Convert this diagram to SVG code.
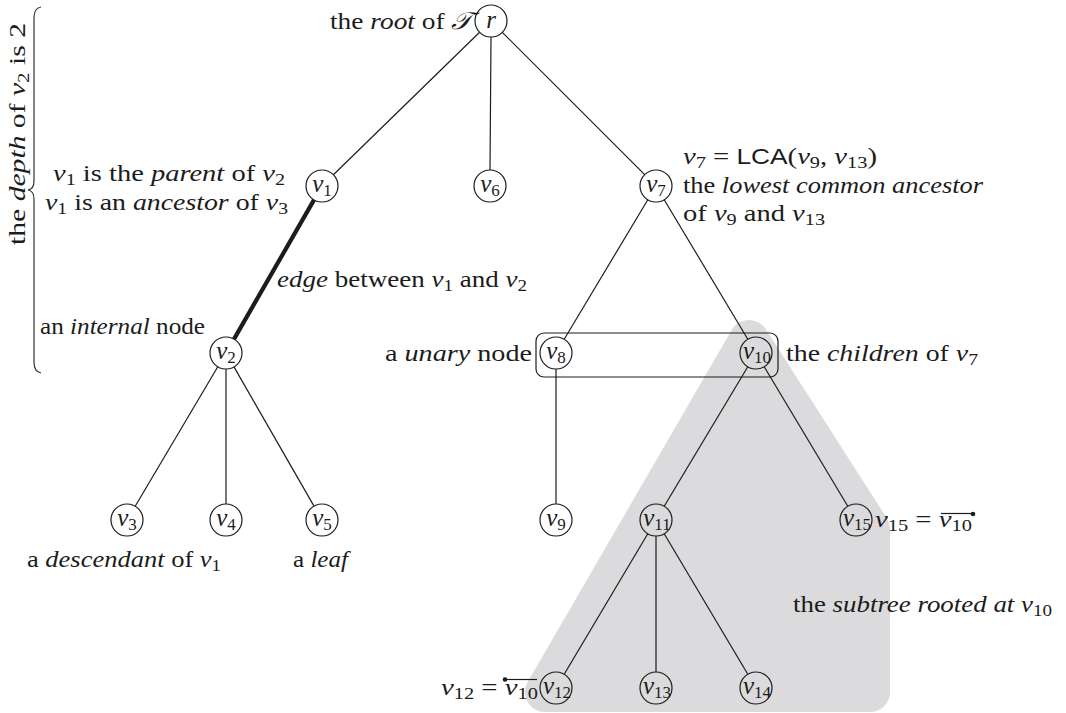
<svg xmlns="http://www.w3.org/2000/svg" width="1066" height="713" viewBox="0 0 1066 713">
<style>
.t{font-family:"Liberation Serif","Times New Roman",Times,serif;font-size:24px;fill:#1c1c1c}
.i{font-style:italic}
.s{font-size:17px;font-style:normal}
.sf{font-family:"Liberation Sans",Arial,sans-serif;font-size:22px;font-style:normal}
.n{font-family:"Liberation Serif","Times New Roman",Times,serif;font-size:25px;font-style:italic;fill:#1c1c1c;text-anchor:middle}
.c{fill:none;stroke:#1c1c1c;stroke-width:1.2}
.e{stroke:#1c1c1c;stroke-width:1.2;fill:none}
</style>
<rect width="1066" height="713" fill="#ffffff"/>
<g id="subtree-region">
<path d="M749 340 L870 529 L870 692 L545 692 Z" fill="#dbdbdd" stroke="#dbdbdd" stroke-width="40" stroke-linejoin="round"/>
</g>
<g id="children-box">
<rect x="536" y="333" width="242" height="44" rx="8" fill="none" stroke="#1c1c1c" stroke-width="1.2"/>
</g>
<g id="connectors">
<line class="e" x1="479.6" y1="32.2" x2="333.4" y2="174.8"/>
<line class="e" x1="491" y1="37" x2="490" y2="170"/>
<line class="e" x1="502.3" y1="32.3" x2="644.7" y2="174.7"/>
<line class="e" x1="314" y1="199.9" x2="234" y2="339.1" style="stroke-width:4.2"/>
<line class="e" x1="217.8" y1="366.8" x2="135.2" y2="506.2"/>
<line class="e" x1="226" y1="369" x2="226" y2="504"/>
<line class="e" x1="234" y1="366.9" x2="314" y2="506.1"/>
<line class="e" x1="647.8" y1="199.7" x2="564.2" y2="339.3"/>
<line class="e" x1="664.2" y1="199.7" x2="747.8" y2="339.3"/>
<line class="e" x1="556" y1="369" x2="556" y2="504"/>
<line class="e" x1="747.8" y1="366.7" x2="664.2" y2="506.3"/>
<line class="e" x1="764.2" y1="366.7" x2="847.8" y2="506.3"/>
<line class="e" x1="647.8" y1="533.7" x2="564.2" y2="674.3"/>
<line class="e" x1="656" y1="536" x2="656" y2="672"/>
<line class="e" x1="664.2" y1="533.7" x2="747.8" y2="674.3"/>
</g>
<g id="node-r"><circle class="c" cx="491" cy="21" r="16"/><text class="n" x="491" y="28">r</text></g>
<g id="node-v1"><circle class="c" cx="322" cy="186" r="16"/><text class="n" x="322" y="192">v<tspan class="s" dy="4">1</tspan></text></g>
<g id="node-v6"><circle class="c" cx="490" cy="186" r="16"/><text class="n" x="490" y="192">v<tspan class="s" dy="4">6</tspan></text></g>
<g id="node-v7"><circle class="c" cx="656" cy="186" r="16"/><text class="n" x="656" y="192">v<tspan class="s" dy="4">7</tspan></text></g>
<g id="node-v2"><circle class="c" cx="226" cy="353" r="16"/><text class="n" x="226" y="359">v<tspan class="s" dy="4">2</tspan></text></g>
<g id="node-v8"><circle class="c" cx="556" cy="353" r="16"/><text class="n" x="556" y="359">v<tspan class="s" dy="4">8</tspan></text></g>
<g id="node-v10"><circle class="c" cx="756" cy="353" r="16"/><text class="n" x="757" y="359">v<tspan class="s" dy="4">10</tspan></text></g>
<g id="node-v3"><circle class="c" cx="127" cy="520" r="16"/><text class="n" x="127" y="526">v<tspan class="s" dy="4">3</tspan></text></g>
<g id="node-v4"><circle class="c" cx="226" cy="520" r="16"/><text class="n" x="226" y="526">v<tspan class="s" dy="4">4</tspan></text></g>
<g id="node-v5"><circle class="c" cx="322" cy="520" r="16"/><text class="n" x="322" y="526">v<tspan class="s" dy="4">5</tspan></text></g>
<g id="node-v9"><circle class="c" cx="556" cy="520" r="16"/><text class="n" x="556" y="526">v<tspan class="s" dy="4">9</tspan></text></g>
<g id="node-v11"><circle class="c" cx="656" cy="520" r="16"/><text class="n" x="657" y="526">v<tspan class="s" dy="4">11</tspan></text></g>
<g id="node-v15"><circle class="c" cx="856" cy="520" r="16"/><text class="n" x="857" y="526">v<tspan class="s" dy="4">15</tspan></text></g>
<g id="node-v12"><circle class="c" cx="556" cy="688" r="16"/><text class="n" x="557" y="694">v<tspan class="s" dy="4">12</tspan></text></g>
<g id="node-v13"><circle class="c" cx="656" cy="688" r="16"/><text class="n" x="657" y="694">v<tspan class="s" dy="4">13</tspan></text></g>
<g id="node-v14"><circle class="c" cx="756" cy="688" r="16"/><text class="n" x="757" y="694">v<tspan class="s" dy="4">14</tspan></text></g>
<g id="labels">
<text class="t" x="330" y="29" textLength="142" lengthAdjust="spacingAndGlyphs">the <tspan class="i">root</tspan> of <tspan class="i" font-family="'DejaVu Sans','Noto Sans',serif">𝒯</tspan></text>
<text class="t" x="53" y="181" textLength="232" lengthAdjust="spacingAndGlyphs"><tspan class="i">v</tspan><tspan class="s" dy="4">1</tspan><tspan dy="-4"> is the </tspan><tspan class="i">parent</tspan> of <tspan class="i">v</tspan><tspan class="s" dy="4">2</tspan></text>
<text class="t" x="45" y="210" textLength="243" lengthAdjust="spacingAndGlyphs"><tspan class="i">v</tspan><tspan class="s" dy="4">1</tspan><tspan dy="-4"> is an </tspan><tspan class="i">ancestor</tspan> of <tspan class="i">v</tspan><tspan class="s" dy="4">3</tspan></text>
<text class="t" x="683" y="164" textLength="194" lengthAdjust="spacingAndGlyphs"><tspan class="i">v</tspan><tspan class="s" dy="4">7</tspan><tspan dy="-4"> = </tspan><tspan class="sf">LCA</tspan>(<tspan class="i">v</tspan><tspan class="s" dy="4">9</tspan><tspan dy="-4">, </tspan><tspan class="i">v</tspan><tspan class="s" dy="4">13</tspan><tspan dy="-4">)</tspan></text>
<text class="t" x="683" y="193" textLength="300" lengthAdjust="spacingAndGlyphs">the <tspan class="i">lowest common ancestor</tspan></text>
<text class="t" x="683" y="221" textLength="142" lengthAdjust="spacingAndGlyphs">of <tspan class="i">v</tspan><tspan class="s" dy="4">9</tspan><tspan dy="-4"> and </tspan><tspan class="i">v</tspan><tspan class="s" dy="4">13</tspan></text>
<text class="t" x="277" y="287" textLength="250" lengthAdjust="spacingAndGlyphs"><tspan class="i">edge</tspan> between <tspan class="i">v</tspan><tspan class="s" dy="4">1</tspan><tspan dy="-4"> and </tspan><tspan class="i">v</tspan><tspan class="s" dy="4">2</tspan></text>
<text class="t" x="40" y="334" textLength="165" lengthAdjust="spacingAndGlyphs">an <tspan class="i">internal</tspan> node</text>
<text class="t" x="385" y="361" textLength="147" lengthAdjust="spacingAndGlyphs">a <tspan class="i">unary</tspan> node</text>
<text class="t" x="786" y="361" textLength="192" lengthAdjust="spacingAndGlyphs">the <tspan class="i">children</tspan> of <tspan class="i">v</tspan><tspan class="s" dy="4">7</tspan></text>
<text class="t" x="27" y="567" textLength="194" lengthAdjust="spacingAndGlyphs">a <tspan class="i">descendant</tspan> of <tspan class="i">v</tspan><tspan class="s" dy="4">1</tspan></text>
<text class="t" x="293" y="567" textLength="55" lengthAdjust="spacingAndGlyphs">a <tspan class="i">leaf</tspan></text>
<text class="t" x="875" y="527" textLength="97" lengthAdjust="spacingAndGlyphs"><tspan class="i">v</tspan><tspan class="s" dy="4">15</tspan><tspan dy="-4"> = </tspan><tspan class="i">v</tspan><tspan class="s" dy="4">10</tspan></text>
<line x1="941" y1="513.5" x2="972" y2="513.5" stroke="#1c1c1c" stroke-width="1.2"/>
<circle cx="973" cy="514" r="2.3" fill="#1c1c1c"/>
<text class="t" x="441" y="695" textLength="97" lengthAdjust="spacingAndGlyphs"><tspan class="i">v</tspan><tspan class="s" dy="4">12</tspan><tspan dy="-4"> = </tspan><tspan class="i">v</tspan><tspan class="s" dy="4">10</tspan></text>
<line x1="505" y1="679.5" x2="537" y2="679.5" stroke="#1c1c1c" stroke-width="1.2"/>
<circle cx="505" cy="679.5" r="2.3" fill="#1c1c1c"/>
<text class="t" x="793" y="612" textLength="259" lengthAdjust="spacingAndGlyphs">the <tspan class="i">subtree rooted at v</tspan><tspan class="s" dy="4">10</tspan></text>
<path d="M41 7 Q34 8 34 18 L34 181 Q34 189 28 190 Q34 191 34 199 L34 362 Q34 372 41 373" fill="none" stroke="#333" stroke-width="1.2"/>
<text class="t" transform="translate(25,134) rotate(-90)" x="-111" y="0" textLength="222" lengthAdjust="spacingAndGlyphs">the <tspan class="i">depth</tspan> of <tspan class="i">v</tspan><tspan class="s" dy="4">2</tspan><tspan dy="-4"> is 2</tspan></text>
</g>
</svg>
